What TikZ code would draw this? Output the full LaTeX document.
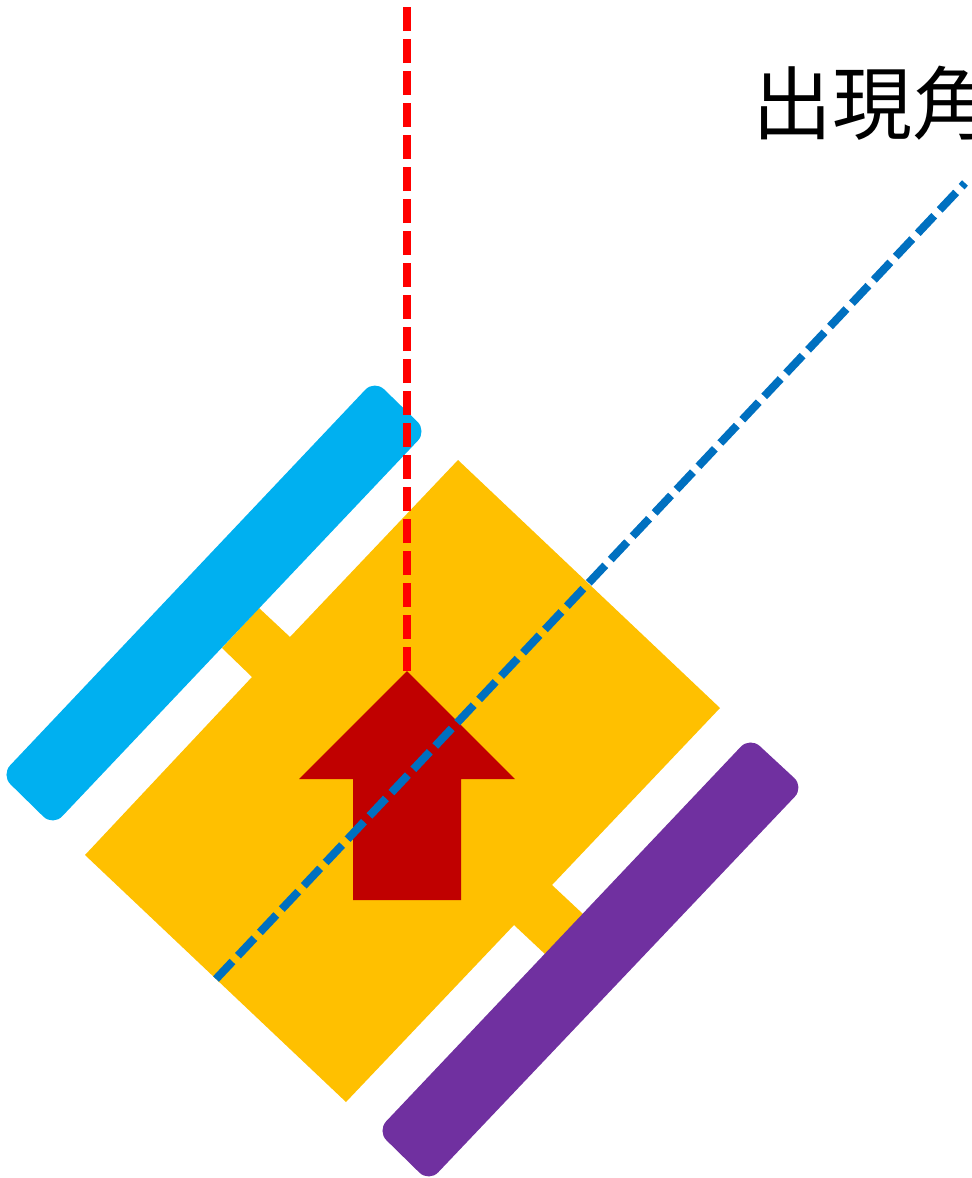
\documentclass[tikz,border=0pt]{standalone}
\usepackage{fontspec}
\newfontfamily\cjkfont{Noto Sans CJK JP}
\usetikzlibrary{calc}
\definecolor{bodyyellow}{HTML}{FFC000}
\definecolor{wheelblue}{HTML}{00B0F0}
\definecolor{wheelpurple}{HTML}{7030A0}
\definecolor{arrowred}{HTML}{C00000}
\definecolor{axisblue}{HTML}{0070C0}
\tikzset{
  body/.style    ={fill=bodyyellow},
  wheel/.style   ={rounded corners=10pt},
  heading/.style ={fill=arrowred},
  refline/.style ={draw=red, line width=6pt, dash pattern=on 18pt off 6pt},
  axisline/.style={draw=axisblue, line width=6pt, dash pattern=on 18pt off 6pt},
  lbl/.style     ={inner sep=0pt, anchor=west, font=\fontsize{60pt}{60pt}\selectfont\cjkfont},
}
\begin{document}
\begin{tikzpicture}[x=0.75pt,y=-0.75pt]
\useasboundingbox (0,0) rectangle (971,1178);

% vehicle body with the two axle stubs
\fill[body] (458,460) -- (720,708) -- (552,885) -- (583,914) -- (546,955) -- (514,925)
  -- (346,1102) -- (85,855) -- (252,677) -- (222,648) -- (259,608) -- (290,637) -- cycle;

% wheels
\fill[wheel, wheelblue] (374.5,380) -- (427,431) -- (53,826) -- (1,775) -- cycle;
\fill[wheel, wheelpurple] (750,737) -- (804,787) -- (429,1182) -- (377,1131) -- cycle;

% heading arrow
\fill[heading] (407,671) -- (515,779) -- (461,779) -- (461,900) -- (353,900) -- (353,779) -- (299,779) -- cycle;

% reference and axis lines
\coordinate (reftop) at (407,7);
\coordinate (refbase) at (407,671);
\coordinate (axisbase) at (216,979);
\coordinate (axistop) at (965,183);
\draw[refline] (refbase) -- (reftop);
\draw[axisline] (axisbase) -- (axistop);

\node[lbl] (angle) at (752,103) {出現角};
\end{tikzpicture}
\end{document}
